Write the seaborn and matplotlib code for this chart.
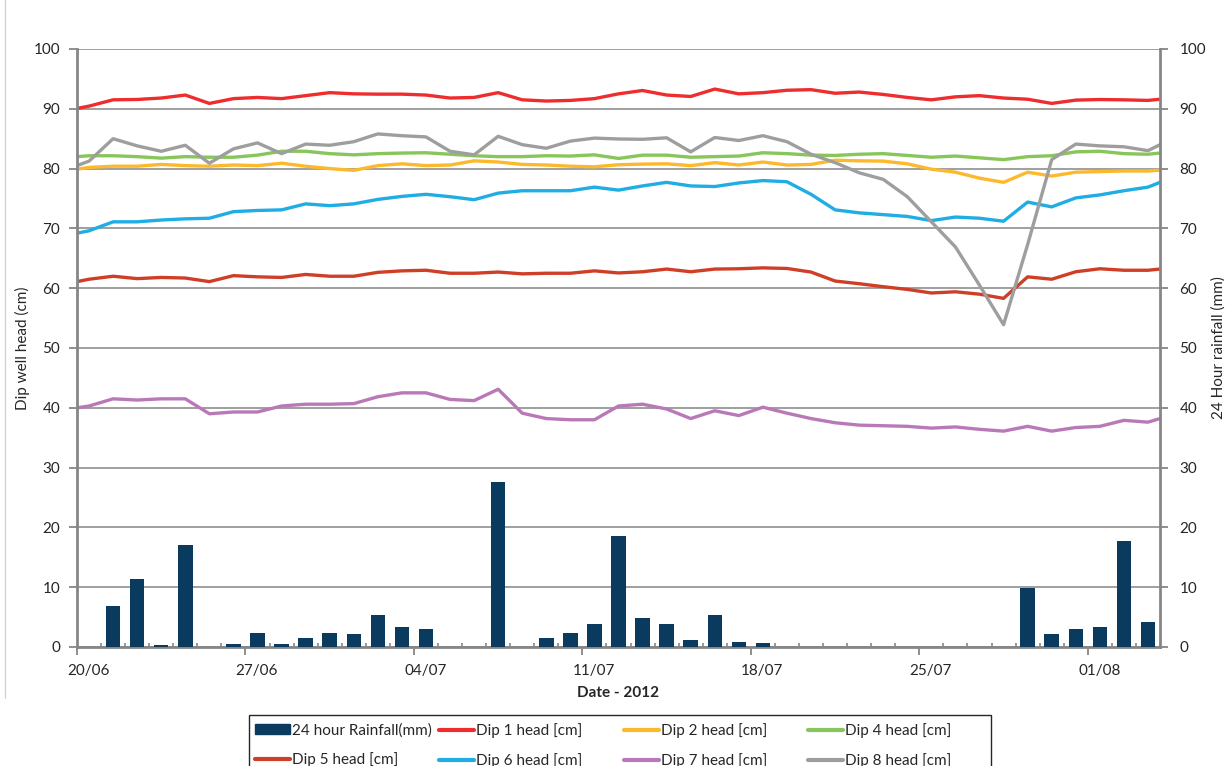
import numpy as np
import pandas as pd
import seaborn as sns
import matplotlib.pyplot as plt
import matplotlib.ticker as mticker
import matplotlib.transforms as mtrans
from matplotlib.lines import Line2D
from matplotlib.patches import Patch, Rectangle

# x = days since 20/06/2012. dip readings: one at the start of 20/06, then daily
# around midday, then one at the start of 04/08
reading_day = [0] + [d + 0.5 for d in range(45)] + [45]
rain_day = [d + 0.5 for d in range(45)]

tick_day = [0, 7, 14, 21, 28, 35, 42]
tick_label = ['20/06', '27/06', '04/07', '11/07', '18/07', '25/07', '01/08']

rain = [0, 6.9, 11.4, 0.3, 17.1, 0, 0.5, 2.4, 0.5, 1.5, 2.4, 2.1, 5.4, 3.3, 3.0,
        0, 0, 27.6, 0, 1.5, 2.4, 3.9, 18.5, 4.8, 3.9, 1.2, 5.4, 0.9, 0.6,
        0, 0, 0, 0, 0, 0, 0, 0, 0, 0,
        9.9, 2.1, 3.0, 3.3, 17.7, 4.2]

dip1 = [90.05, 90.45, 91.5, 91.56, 91.8, 92.3, 90.9, 91.7, 91.9, 91.7, 92.2, 92.7,
        92.5, 92.45, 92.45, 92.3, 91.8, 91.9, 92.7, 91.5, 91.3, 91.4, 91.7, 92.5,
        93.06, 92.3, 92.06, 93.3, 92.5, 92.7, 93.1, 93.2, 92.6, 92.8, 92.4,
        91.9, 91.5, 92.0, 92.2, 91.8, 91.6, 90.9, 91.45, 91.55, 91.5, 91.4, 91.6]
dip2 = [79.9, 80.2, 80.4, 80.4, 80.7, 80.5, 80.4, 80.6, 80.5, 80.9, 80.4, 80.0,
        79.7, 80.5, 80.8, 80.5, 80.6, 81.3, 81.1, 80.7, 80.6, 80.4, 80.3, 80.65,
        80.75, 80.8, 80.5, 81.0, 80.6, 81.1, 80.6, 80.7, 81.4, 81.3, 81.25,
        80.8, 79.9, 79.4, 78.4, 77.7, 79.4, 78.75, 79.4, 79.5, 79.6, 79.6, 79.75]
dip4 = [82.0, 82.15, 82.15, 82.0, 81.75, 82.0, 81.9, 81.9, 82.25, 82.9, 82.9, 82.5,
        82.3, 82.5, 82.6, 82.65, 82.4, 82.15, 82.0, 82.0, 82.15, 82.1, 82.3, 81.7,
        82.25, 82.25, 81.9, 82.0, 82.1, 82.65, 82.5, 82.25, 82.2, 82.4, 82.5,
        82.2, 81.9, 82.1, 81.8, 81.5, 82.0, 82.15, 82.8, 82.9, 82.5, 82.4, 82.6]
dip5 = [61.1, 61.5, 62.0, 61.6, 61.8, 61.7, 61.1, 62.1, 61.9, 61.8, 62.3, 62.0,
        62.0, 62.65, 62.9, 63.0, 62.5, 62.5, 62.7, 62.4, 62.5, 62.5, 62.9, 62.55,
        62.75, 63.2, 62.75, 63.2, 63.25, 63.4, 63.3, 62.7, 61.2, 60.75, 60.25,
        59.8, 59.2, 59.4, 59.0, 58.3, 61.9, 61.5, 62.75, 63.25, 63.0, 63.0, 63.2]
dip6 = [69.2, 69.6, 71.1, 71.1, 71.4, 71.6, 71.7, 72.8, 73.0, 73.1, 74.1, 73.8,
        74.1, 74.85, 75.35, 75.7, 75.3, 74.8, 75.9, 76.3, 76.3, 76.3, 76.9, 76.4,
        77.1, 77.7, 77.1, 77.0, 77.6, 78.0, 77.8, 75.7, 73.1, 72.6, 72.3,
        72.0, 71.3, 71.9, 71.7, 71.2, 74.4, 73.6, 75.1, 75.6, 76.3, 76.9, 77.7]
dip7 = [40.0, 40.3, 41.5, 41.3, 41.5, 41.5, 39.0, 39.3, 39.3, 40.3, 40.6, 40.6,
        40.7, 41.85, 42.5, 42.5, 41.4, 41.2, 43.1, 39.1, 38.2, 38.0, 38.0, 40.3,
        40.6, 39.8, 38.2, 39.5, 38.7, 40.1, 39.1, 38.2, 37.5, 37.1, 37.0,
        36.9, 36.6, 36.8, 36.4, 36.1, 36.9, 36.1, 36.7, 36.9, 37.9, 37.6, 38.2]
dip8 = [80.5, 81.25, 85.0, 83.8, 82.9, 83.9, 80.9, 83.3, 84.3, 82.5, 84.1, 83.9,
        84.5, 85.8, 85.5, 85.3, 82.9, 82.3, 85.4, 84.0, 83.4, 84.6, 85.1, 84.95,
        84.9, 85.15, 82.8, 85.2, 84.7, 85.5, 84.5, 82.4, 81.0, 79.3, 78.2,
        75.3, 71.1, 66.9, 60.5, 53.9, 67.3, 81.5, 84.1, 83.8, 83.65, 83.0, 84.0]

names = ['Dip 1 head [cm]', 'Dip 2 head [cm]', 'Dip 4 head [cm]', 'Dip 5 head [cm]',
         'Dip 6 head [cm]', 'Dip 7 head [cm]', 'Dip 8 head [cm]']
colors = ['#EE2D2E', '#FDB92C', '#88C65B', '#CF3F28', '#1FADE4', '#B979B8', '#9E9E9E']
rain_color = '#0B3A5F'
rain_label = '24 hour Rainfall(mm)'

df = pd.concat([pd.DataFrame({'day': reading_day, 'head': v, 'series': n})
                for n, v in zip(names, [dip1, dip2, dip4, dip5, dip6, dip7, dip8])])

sns.set_theme(style='white')
plt.rcParams['font.family'] = ['Lato', 'DejaVu Sans']

W, H = 1231, 766
fig = plt.figure(figsize=(W / 100, H / 100), dpi=100)
ax = fig.add_axes([77/W, 1 - 647/H, (1160 - 77)/W, (647 - 49)/H])
ax2 = ax.twinx()

sns.lineplot(data=df, x='day', y='head', hue='series', hue_order=names,
             palette=colors, linewidth=2.4, ax=ax, legend=False,
             estimator=None, sort=False)
sns.barplot(x=rain_day, y=rain, native_scale=True, width=0.6, color=rain_color,
            saturation=1, linewidth=0, errorbar=None, ax=ax2)

grey = '#868686'
for a in (ax, ax2):
    a.set_ylim(0, 100)
    a.set_yticks(range(0, 101, 10))
    for s in a.spines.values():
        s.set_visible(False)
ax.set_xlim(0, 45)
ax.grid(axis='y', color='#8f8f8f', linewidth=1.2)
ax.grid(axis='x', visible=False)
ax.spines['left'].set_visible(True)
ax.spines['bottom'].set_visible(True)
ax2.spines['right'].set_visible(True)
for s in (ax.spines['left'], ax.spines['bottom'], ax2.spines['right']):
    s.set_color(grey)
    s.set_linewidth(2)

ax.set_xticks(tick_day, tick_label)
ax.xaxis.set_minor_locator(mticker.MultipleLocator(1))
ax.tick_params(axis='x', which='major', direction='out', length=6, width=1.3,
               color=grey, labelsize=11, pad=6, bottom=True)
ax.tick_params(axis='x', which='minor', direction='in', length=3, width=1.2,
               color=grey, bottom=True)
ax.tick_params(axis='y', direction='out', length=6, width=1.3, color=grey,
               labelsize=11, pad=6, left=True)
ax2.tick_params(axis='y', direction='out', length=6, width=1.3, color=grey,
                labelsize=11, pad=8, right=True)

# Excel puts the date label in the middle of the day slot
shift = mtrans.ScaledTranslation(0.115, 0, fig.dpi_scale_trans)
for lab in ax.get_xticklabels():
    lab.set_transform(lab.get_transform() + shift)

ax.set_xlabel('Date - 2012', fontsize=11, fontweight='bold', labelpad=6)
ax.set_ylabel('Dip well head (cm)', fontsize=11, labelpad=3)
ax2.set_ylabel('24 Hour rainfall (mm)', fontsize=11, labelpad=4)

# legend: Excel style, equal-width columns inside one box (cut by the figure edge)
handles = [Patch(color=rain_color)] + [Line2D([], [], color=c, linewidth=3) for c in colors]
labels = [rain_label] + names
columns = [[0, 4], [1, 5], [2, 6], [3, 7]]
col_x = [255, 439, 624, 808]
for cx, idx in zip(col_x, columns):
    fig.legend([handles[i] for i in idx], [labels[i] for i in idx],
               loc='upper left', bbox_to_anchor=(cx / W, 1 - 723 / H),
               frameon=False, fontsize=11, handlelength=2.3, handletextpad=0.12,
               borderpad=0, borderaxespad=0, labelspacing=0.98)
fig.add_artist(Rectangle((249 / W, -0.01), (991 - 249) / W, 0.01 + (H - 715) / H,
                         transform=fig.transFigure, fill=False,
                         edgecolor='#262626', linewidth=1))

fig.add_artist(Line2D([5/W, 5/W], [1, 1 - 698/H], color='#d4d4d4', linewidth=1))

fig.savefig('out.png', dpi=100)
